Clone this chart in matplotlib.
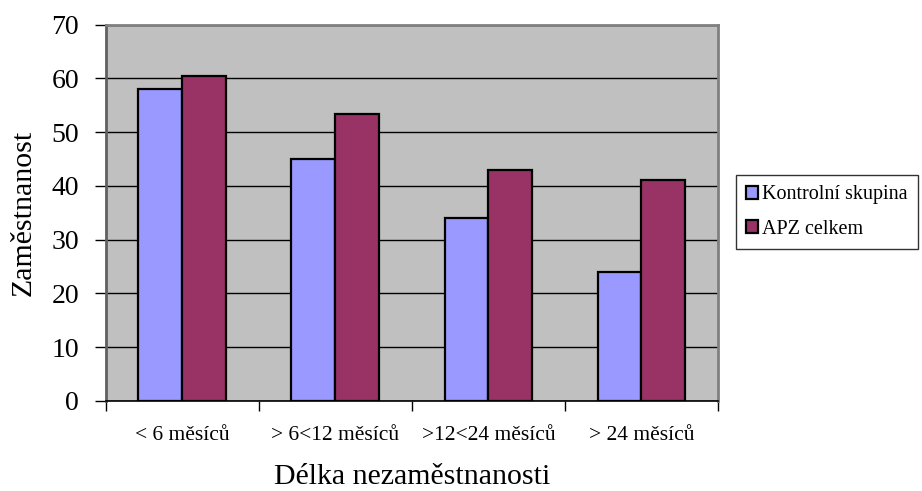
import matplotlib
matplotlib.use("Agg")
import matplotlib.pyplot as plt
import numpy as np

# Data
categories = ["< 6 měsíců", "> 6<12 měsíců", ">12<24 měsíců", "> 24 měsíců"]
kontrolni = [58, 45, 34, 24]
apz = [60.5, 53.3, 43, 41]
series_names = ["Kontrolní skupina", "APZ celkem"]

plt.rcParams['font.family'] = ['Liberation Serif', 'DejaVu Serif']

fig = plt.figure(figsize=(9.22, 4.91), dpi=100)
ax = fig.add_axes([105.5 / 922, 1 - 401 / 491, (718 - 105.5) / 922, (401 - 24.5) / 491])
ax.set_facecolor('#C0C0C0')

x = np.arange(len(categories))
w = 1 / 3.5
ax.bar(x - w / 2, kontrolni, w, color='#9999FF', edgecolor='black', linewidth=1.6,
       label=series_names[0], zorder=3)
ax.bar(x + w / 2, apz, w, color='#993366', edgecolor='black', linewidth=1.6,
       label=series_names[1], zorder=3)

ax.set_xlim(-0.5, len(categories) - 0.5)
ax.set_ylim(0, 70)
ax.set_yticks(range(0, 71, 10))
ax.yaxis.grid(True, color='black', linewidth=1.0, zorder=1)
ax.set_axisbelow(True)

# category boundary ticks on x axis
ax.set_xticks(x)
ax.set_xticklabels(categories, fontsize=15.5)
ax.set_xticks(np.arange(-0.5, len(categories), 1), minor=True)
ax.tick_params(axis='x', which='major', length=0, pad=18)
ax.tick_params(axis='x', which='minor', length=7, width=1, color='black')
ax.tick_params(axis='y', length=8, width=1, labelsize=20, pad=11)

for side in ['top', 'right']:
    ax.spines[side].set_color('#808080')
    ax.spines[side].set_linewidth(2)
ax.spines['left'].set_color('#606060')
ax.spines['left'].set_linewidth(2)
ax.spines['bottom'].set_color('black')
ax.spines['bottom'].set_linewidth(1.2)

ax.set_ylabel('Zaměstnanost', fontsize=21.5, labelpad=11)
ax.set_xlabel('Délka nezaměstnanosti', fontsize=21.5, labelpad=14)

leg = ax.legend(loc='center left', bbox_to_anchor=(736 / 922, 1 - 212 / 491),
                bbox_transform=fig.transFigure, fontsize=14.5, frameon=True,
                fancybox=False, edgecolor='black', handlelength=0.6,
                handleheight=0.6, handletextpad=0.2, borderpad=0.5,
                labelspacing=0.75, borderaxespad=0)
leg.get_frame().set_linewidth(1.0)

fig.savefig('out.png', dpi=100)
